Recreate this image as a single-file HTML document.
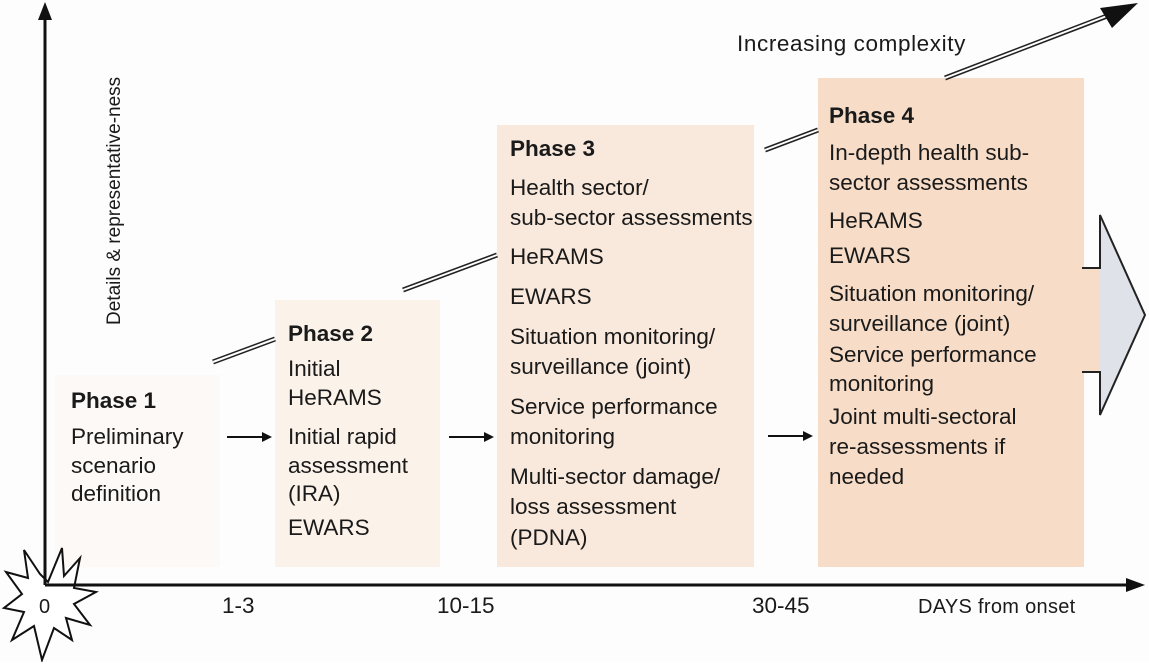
<!DOCTYPE html>
<html><head><style>
body{margin:0;background:#fff;width:1149px;height:662px;overflow:hidden}
text{font-family:"Liberation Sans",sans-serif;font-size:22.5px;fill:#1a1a1a}
.b{font-weight:bold}
</style></head><body>
<svg width="1149" height="662" viewBox="0 0 1149 662">
<rect width="1149" height="662" fill="#fdfdfd"/>
<rect x="55" y="375" width="165" height="192" fill="#fdf9f6"/>
<rect x="275" y="300" width="165" height="267" fill="#fbf2ea"/>
<rect x="497" y="125" width="257" height="442" fill="#f9e9dc"/>
<rect x="818" y="78" width="266" height="489" fill="#f7ddc8"/>
<polygon points="1083,268 1100,268 1100,215 1145,315 1100,415 1100,372 1083,372" fill="#dfe2e8" stroke="#222" stroke-width="2"/>
<rect x="1080" y="269" width="19" height="102" fill="#f7ddc8"/>
<g stroke-linecap="butt">
<g stroke="#222" stroke-width="5">
<line x1="213" y1="362" x2="275" y2="339"/>
<line x1="403" y1="290" x2="497" y2="255"/>
<line x1="765" y1="150" x2="818" y2="130"/>
<line x1="945" y1="78" x2="1115" y2="13"/>
</g>
<g stroke="#fff" stroke-width="2">
<line x1="213" y1="362" x2="275" y2="339"/>
<line x1="403" y1="290" x2="497" y2="255"/>
<line x1="765" y1="150" x2="818" y2="130"/>
<line x1="945" y1="78" x2="1112" y2="14"/>
</g>
</g>
<polygon points="1138,3 1100,8 1112,28" fill="#111"/>
<line x1="45" y1="592" x2="45" y2="15" stroke="#111" stroke-width="3"/>
<polygon points="45,2 38,20 52,20" fill="#111"/>
<line x1="40" y1="585" x2="1128" y2="585" stroke="#111" stroke-width="3"/>
<polygon points="1145,585 1126,578 1126,592" fill="#111"/>
<polygon points="48,582 62,548 64,576 80,558 74,588 96,592 74,604 90,625 66,618 72,640 54,628 42,660 34,626 12,640 24,612 4,608 22,594 6,572 28,578 24,550 40,574" fill="#fff" stroke="#111" stroke-width="2"/>
<line x1="45" y1="585" x2="80" y2="585" stroke="#111" stroke-width="3"/>
<line x1="45" y1="585" x2="45" y2="560" stroke="#111" stroke-width="3"/>
<text x="39" y="613" style="font-size:20px">0</text>
<text x="222" y="613">1-3</text>
<text x="437" y="613">10-15</text>
<text x="752" y="613">30-45</text>
<text x="918" y="613" style="font-size:20px;letter-spacing:0.3px">DAYS from onset</text>
<text transform="translate(120,325) rotate(-90)" style="font-size:19px">Details &amp; representative-ness</text>
<text x="737" y="51" style="letter-spacing:0.6px">Increasing complexity</text>
<g stroke="#111" stroke-width="2"><line x1="227" y1="437" x2="265" y2="437"/><line x1="449" y1="437" x2="487" y2="437"/><line x1="768" y1="436" x2="806" y2="436"/></g>
<g fill="#111"><polygon points="272,437 262,432 262,442"/><polygon points="494,437 484,432 484,442"/><polygon points="813,436 803,431 803,441"/></g>
<text x="71" y="408" class="b">Phase 1</text>
<text x="71" y="444">Preliminary</text><text x="71" y="473">scenario</text><text x="71" y="501">definition</text>
<text x="288" y="341" class="b">Phase 2</text>
<text x="288" y="376">Initial</text><text x="288" y="405">HeRAMS</text>
<text x="288" y="444">Initial rapid</text><text x="288" y="473">assessment</text><text x="288" y="501">(IRA)</text>
<text x="288" y="535">EWARS</text>
<text x="510" y="156" class="b">Phase 3</text>
<text x="510" y="195">Health sector/</text><text x="510" y="225">sub-sector assessments</text>
<text x="510" y="264">HeRAMS</text>
<text x="510" y="304">EWARS</text>
<text x="510" y="344">Situation monitoring/</text><text x="510" y="374">surveillance (joint)</text>
<text x="510" y="414">Service performance</text><text x="510" y="444">monitoring</text>
<text x="510" y="484">Multi-sector damage/</text><text x="510" y="514">loss assessment</text><text x="510" y="545">(PDNA)</text>
<text x="829" y="123" class="b">Phase 4</text>
<text x="829" y="160">In-depth health sub-</text><text x="829" y="190">sector assessments</text>
<text x="829" y="228">HeRAMS</text>
<text x="829" y="263">EWARS</text>
<text x="829" y="301">Situation monitoring/</text><text x="829" y="331">surveillance (joint)</text>
<text x="829" y="362">Service performance</text><text x="829" y="391">monitoring</text>
<text x="829" y="424">Joint multi-sectoral</text><text x="829" y="454">re-assessments if</text><text x="829" y="484">needed</text>
</svg>
</body></html>
